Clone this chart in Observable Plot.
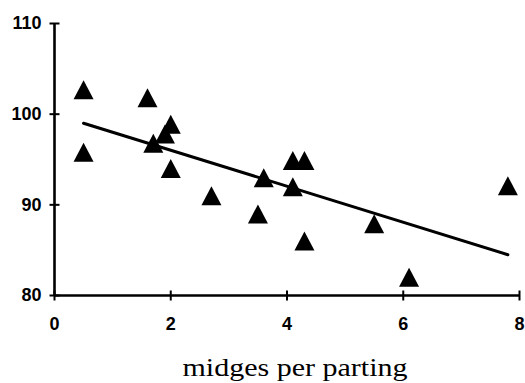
<!DOCTYPE html>
<html><head><meta charset="utf-8">
<script src="https://cdn.jsdelivr.net/npm/d3@7"></script>
<script src="https://cdn.jsdelivr.net/npm/@observablehq/plot@0.6"></script>
<style>
body{margin:0;background:#fff;position:relative;width:525px;height:383px;overflow:hidden;}
#title{position:absolute;left:295px;top:353px;white-space:nowrap;font-family:"Liberation Serif","Times New Roman",serif;font-size:25px;line-height:30px;color:#000;transform:translateX(-50%) scaleX(1.2);}
</style></head><body><div id="chart"></div><div id="title">midges per parting</div>
<script>
// values
const midges = [0.5, 0.5, 1.6, 1.7, 1.9, 2.0, 2.0, 2.7, 3.5, 3.6, 4.1, 4.3, 4.1, 4.3, 5.5, 6.1, 7.8];
const value  = [102.7, 95.8, 101.8, 96.8, 97.8, 98.9, 94.0, 91.0, 89.0, 93.0, 94.9, 94.9, 92.0, 86.0, 87.9, 82.0, 92.1];
const trendX = [0.5, 7.8];
const trendY = [99.0, 84.5];
const xTicks = [0, 2, 4, 6, 8];
const yTicks = [80, 90, 100, 110];

const points = midges.map((x, i) => ({x, y: value[i]}));
const trend = trendX.map((x, i) => ({x, y: trendY[i]}));

const triangle = {draw(ctx) { const w = 20, h = 19; ctx.moveTo(0, -h/2); ctx.lineTo(w/2, h/2); ctx.lineTo(-w/2, h/2); ctx.closePath(); }};
const hTick = {draw(ctx) { ctx.moveTo(-5, 0); ctx.lineTo(5, 0); }};
const vTick = {draw(ctx) { ctx.moveTo(0, -5); ctx.lineTo(0, 5); }};

const chart = Plot.plot({
  width: 525,
  height: 353,
  marginLeft: 54,
  marginRight: 6,
  marginTop: 23,
  marginBottom: 58,
  style: {fontFamily: "'Liberation Sans', Arial, sans-serif", fontSize: "18px", fontWeight: "bold", color: "#000", background: "#fff", overflow: "visible"},
  x: {domain: [0, 8]},
  y: {domain: [80, 110]},
  marks: [
    Plot.axisY({ticks: yTicks, tickSize: 0, tickPadding: 13, label: null}),
    Plot.axisX({ticks: xTicks, tickSize: 0, tickPadding: 22, label: null}),
    Plot.ruleX([0], {y1: 80, y2: 110, stroke: "#000", strokeWidth: 2.6}),
    Plot.ruleY([80], {x1: 0, x2: 8, stroke: "#000", strokeWidth: 2.6}),
    Plot.dot(yTicks, {x: 0, y: d => d, symbol: hTick, stroke: "#000", strokeWidth: 2, fill: "none"}),
    Plot.dot(xTicks, {x: d => d, y: 80, symbol: vTick, stroke: "#000", strokeWidth: 2, fill: "none"}),
    Plot.line(trend, {x: "x", y: "y", stroke: "#000", strokeWidth: 3}),
    Plot.dot(points, {x: "x", y: "y", symbol: triangle, fill: "#000", stroke: "none"})
  ]
});
document.getElementById("chart").appendChild(chart);
</script></body></html>
